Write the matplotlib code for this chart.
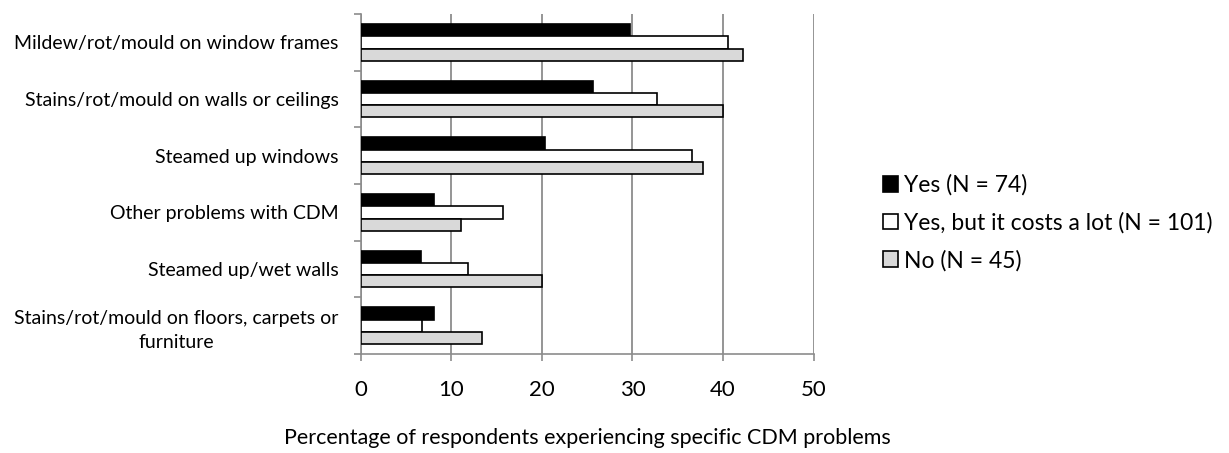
import numpy as np
import matplotlib
matplotlib.use("Agg")
import matplotlib.pyplot as plt

plt.rcParams['font.family'] = ['Lato', 'DejaVu Sans']

categories = [
    'Mildew/rot/mould on window frames',
    'Stains/rot/mould on walls or ceilings',
    'Steamed up windows',
    'Other problems with CDM',
    'Steamed up/wet walls',
    'Stains/rot/mould on floors, carpets or\nfurniture',
]
yes_vals = [29.7, 25.7, 20.3, 8.1, 6.7, 8.1]
yes_costly_vals = [40.6, 32.7, 36.6, 15.7, 11.9, 6.8]
no_vals = [42.2, 40.0, 37.8, 11.1, 20.0, 13.4]
series_labels = ['Yes (N = 74)', 'Yes, but it costs a lot (N = 101)', 'No (N = 45)']
colors = ['black', 'white', '#d9d9d9']

fig = plt.figure(figsize=(12.29, 4.53), dpi=100)
ax = fig.add_axes([0.2935, 0.2185, 0.3685, 0.7505])

n = len(categories)
pos = np.arange(n)  # 0 at top
bh = 0.217
grid_c = '#8c8c8c'

for i, (vals, lab, c) in enumerate(zip([yes_vals, yes_costly_vals, no_vals], series_labels, colors)):
    ax.barh(pos + (i - 1) * bh, vals, height=bh, color=c, edgecolor='black',
            linewidth=1.2, label=lab, zorder=3)

ax.set_ylim(n - 0.5, -0.5)
ax.set_xlim(0, 50)
ax.set_xticks(range(0, 51, 10))
ax.xaxis.grid(True, color=grid_c, linewidth=1.3, zorder=0)

ax.set_yticks(pos)
ax.set_yticklabels(categories, fontsize=14, multialignment='center', linespacing=1.5)
ax.set_yticks(np.arange(-0.5, n, 1), minor=True)
ax.tick_params(axis='y', which='major', length=0, pad=16)
ax.tick_params(axis='y', which='minor', length=5, color=grid_c, width=1.2)
ax.tick_params(axis='x', length=5, color=grid_c, width=1.2, labelsize=16, pad=14)

for s in ['top', 'right']:
    ax.spines[s].set_visible(False)
for s in ['left', 'bottom']:
    ax.spines[s].set_color(grid_c)
    ax.spines[s].set_linewidth(1.2)

ax.set_xlabel('Percentage of respondents experiencing specific CDM problems',
              fontsize=15.5, labelpad=20)

fig.legend(loc='center left', bbox_to_anchor=(0.702, 0.508), frameon=False,
           fontsize=16.5, handlelength=0.65, handleheight=0.65, handletextpad=0.25,
           labelspacing=0.7)

fig.savefig('out.png', dpi=100)
